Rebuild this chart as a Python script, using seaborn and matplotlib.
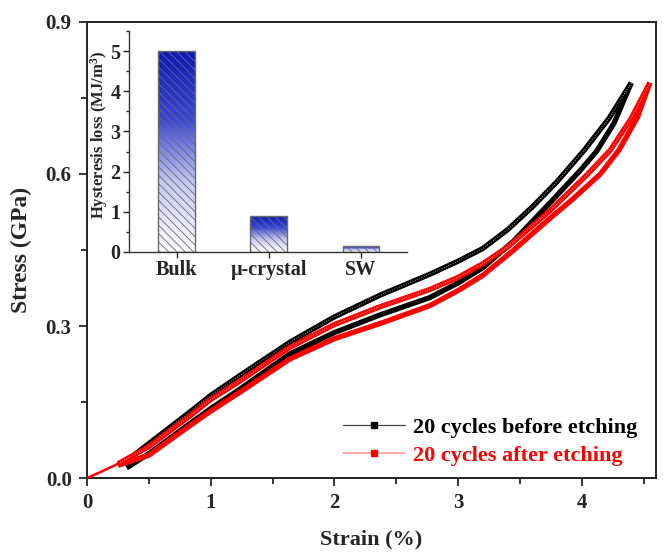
import numpy as np
import pandas as pd
import matplotlib
matplotlib.use("Agg")
import matplotlib.pyplot as plt
from matplotlib.lines import Line2D
from matplotlib.colors import LinearSegmentedColormap
from matplotlib.ticker import MultipleLocator, FormatStrFormatter
import seaborn as sns

# ---- stress-strain data (strain in %, stress in GPa) ----
# first loading from the origin
init_strain = [0.0, 0.12, 0.25]
init_stress = [0.0, 0.013, 0.028]

# 20 cycles before etching
before_load_strain = [0.30, 0.50, 0.83, 1.00, 1.24, 1.64, 2.00, 2.37, 2.77, 3.00, 3.20, 3.40, 3.60, 3.80, 4.02, 4.22, 4.40]
before_load_stress = [0.030, 0.068, 0.130, 0.163, 0.203, 0.268, 0.318, 0.361, 0.402, 0.428, 0.453, 0.490, 0.535, 0.585, 0.647, 0.710, 0.780]
before_unload_strain = [4.40, 4.26, 4.12, 3.98, 3.75, 3.45, 3.20, 3.00, 2.77, 2.37, 2.00, 1.64, 1.24, 1.00, 0.83, 0.50, 0.32]
before_unload_stress = [0.780, 0.700, 0.645, 0.605, 0.545, 0.468, 0.415, 0.385, 0.356, 0.322, 0.287, 0.245, 0.176, 0.137, 0.107, 0.048, 0.020]

# 20 cycles after etching
after_load_strain = [0.25, 0.50, 0.83, 1.00, 1.24, 1.64, 2.00, 2.37, 2.77, 3.00, 3.20, 3.40, 3.74, 4.04, 4.23, 4.40, 4.55]
after_load_stress = [0.028, 0.062, 0.122, 0.155, 0.192, 0.258, 0.303, 0.338, 0.372, 0.396, 0.423, 0.456, 0.527, 0.598, 0.647, 0.710, 0.780]
after_unload_strain = [4.55, 4.45, 4.30, 4.15, 3.92, 3.74, 3.45, 3.20, 3.00, 2.77, 2.37, 2.00, 1.64, 1.24, 1.00, 0.83, 0.50, 0.25]
after_unload_stress = [0.780, 0.712, 0.647, 0.600, 0.549, 0.512, 0.450, 0.400, 0.370, 0.340, 0.305, 0.275, 0.235, 0.170, 0.132, 0.103, 0.045, 0.025]

# ---- inset: hysteresis loss ----
samples = ["Bulk", "\u03bc-crystal", "SW"]
hysteresis_loss = [5.0, 0.9, 0.15]

sns.set_theme(style="ticks")
plt.rcParams["font.family"] = ["Liberation Serif", "DejaVu Serif"]
plt.rcParams["font.weight"] = "bold"
plt.rcParams["mathtext.fontset"] = "custom"
plt.rcParams["mathtext.rm"] = "Liberation Serif:bold"
plt.rcParams["mathtext.it"] = "Liberation Serif:bold"
plt.rcParams["mathtext.bf"] = "Liberation Serif:bold"
plt.rcParams["hatch.linewidth"] = 0.6

fig = plt.figure(figsize=(6.64, 5.55), dpi=100)
ax = fig.add_axes([0.131, 0.1387, 0.857, 0.8217])

def branch(x, y, color, z, texture=False):
    df = pd.DataFrame({"strain": x, "stress": y})
    sns.lineplot(data=df, x="strain", y="stress", sort=False, estimator=None,
                 color=color, lw=3.8, ax=ax, zorder=z,
                 solid_joinstyle="round", solid_capstyle="butt")
    if texture:
        sns.lineplot(data=df, x="strain", y="stress", sort=False, estimator=None,
                     color="white", lw=0.8, ls=(0, (0.6, 1.6)), alpha=0.75, ax=ax, zorder=z + 0.1)

branch(before_load_strain, before_load_stress, "black", 3, texture=True)
branch(before_unload_strain, before_unload_stress, "black", 3)
branch(after_load_strain, after_load_stress, "#ff0000", 4, texture=True)
branch(after_unload_strain, after_unload_stress, "#ff0000", 4)
sns.lineplot(x=init_strain, y=init_stress, color="#ff0000", lw=1.8, ax=ax, zorder=5)

ax.set_xlim(0, 4.6)
ax.set_ylim(0, 0.9)
ax.xaxis.set_major_locator(MultipleLocator(1))
ax.xaxis.set_minor_locator(MultipleLocator(0.5))
ax.yaxis.set_major_locator(MultipleLocator(0.3))
ax.yaxis.set_minor_locator(MultipleLocator(0.15))
ax.yaxis.set_major_formatter(FormatStrFormatter("%.1f"))
ax.tick_params(which="major", direction="out", length=6, width=1.3, labelsize=15, pad=5)
ax.tick_params(which="minor", direction="out", length=4, width=1.3)
for s in ax.spines.values():
    s.set_linewidth(1.4)
    s.set_color("#222222")
for lab in ax.get_xticklabels() + ax.get_yticklabels():
    lab.set_fontweight("bold")
ax.set_xlabel("Strain (%)", fontsize=16, fontweight="bold", labelpad=12)
ax.set_ylabel("Stress (GPa)", fontsize=17, fontweight="bold", labelpad=10)

handles = [
    Line2D([0], [0], color="#444444", lw=0.9, marker="s", ms=5, mfc="black", mec="black"),
    Line2D([0], [0], color="#ff9c9c", lw=1.2, marker="s", ms=5, mfc="#ff0000", mec="#ff0000"),
]
leg = ax.legend(handles, ["20 cycles before etching", "20 cycles after etching"],
                loc="lower right", bbox_to_anchor=(0.99, -0.002), frameon=False,
                fontsize=16, handlelength=2.8, handletextpad=0.35, labelspacing=0.32,
                borderaxespad=0.2)
for txt, col in zip(leg.get_texts(), ["black", "#ff0000"]):
    txt.set_color(col)
    txt.set_fontweight("bold")

# ---- inset bar chart ----
axin = fig.add_axes([0.194, 0.546, 0.419, 0.398])
inset_df = pd.DataFrame({"sample": samples, "loss": hysteresis_loss})
sns.barplot(data=inset_df, x="sample", y="loss", ax=axin, width=0.4,
            color="white", edgecolor="#8a8a8a", linewidth=1.0, saturation=1)

grad_cmap = LinearSegmentedColormap.from_list("wb", ["#ffffff", "#c8ccf2", "#3a46d6", "#0a18b8"])
grad = np.linspace(0, 1, 256).reshape(-1, 1)
for p in axin.patches:
    x0, y0 = p.get_x(), p.get_y()
    w, h = p.get_width(), p.get_height()
    im = axin.imshow(grad, extent=[x0, x0 + w, y0, y0 + h], origin="lower",
                     aspect="auto", cmap=grad_cmap, zorder=1)
    im.set_clip_path(p)
    p.set_facecolor("none")
    p.set_hatch("\\\\\\\\")
    p.set_edgecolor("#6a6a6a")
    p.set_zorder(2)
axin.set_xlim(-0.52, 2.5)
axin.set_ylim(0, 5.5)

sns.despine(ax=axin)
axin.patch.set_alpha(0)
axin.yaxis.set_major_locator(MultipleLocator(1))
axin.yaxis.set_minor_locator(MultipleLocator(0.5))
axin.tick_params(which="major", direction="out", length=4, width=1.0, labelsize=14.5, pad=2)
axin.tick_params(which="minor", direction="out", length=2.5, width=1.0)
axin.tick_params(axis="x", which="minor", bottom=False)
for s in axin.spines.values():
    s.set_linewidth(1.0)
    s.set_color("#333333")
for lab in axin.get_xticklabels() + axin.get_yticklabels():
    lab.set_fontweight("bold")
axin.set_xlabel("")
axin.set_ylabel("Hysteresis loss (MJ/m$^3$)", fontsize=12, fontweight="bold")
axin.yaxis.set_label_coords(-0.068, 0.53)

fig.savefig("out.png", dpi=100)
